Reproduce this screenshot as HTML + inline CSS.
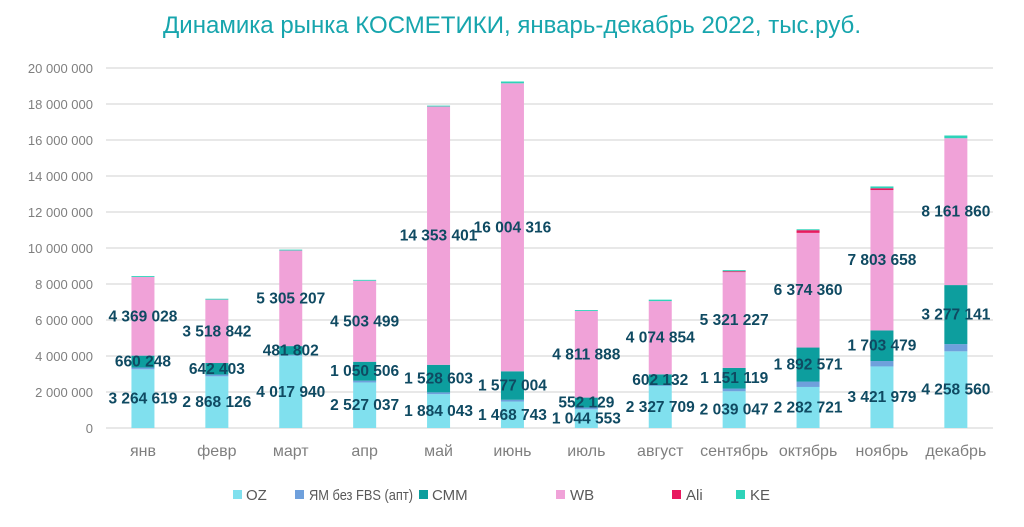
<!DOCTYPE html>
<html><head><meta charset="utf-8"><style>
body{margin:0;background:#fff;width:1024px;height:522px;overflow:hidden}
svg text{font-family:"Liberation Sans",Arial,sans-serif}
.yl{fill:#7f7f7f;font-size:13px;text-anchor:end}
.xl{fill:#7f7f7f;font-size:16px;text-anchor:middle}
.dl{fill:#0f4a62;font-size:15.5px;font-weight:bold;text-anchor:middle}
.lg{fill:#595959;font-size:15px}
</style></head><body>
<svg width="1024" height="522" xmlns="http://www.w3.org/2000/svg" id="s">
<text x="512" y="33" text-anchor="middle" textLength="698" lengthAdjust="spacingAndGlyphs" style="font-size:24px;fill:#17a5ad">Динамика рынка КОСМЕТИКИ, январь-декабрь 2022, тыс.руб.</text>
<g id="grid"></g><g id="bars"></g><g id="labs"></g>
<g>
<rect x="233" y="490" width="9" height="9" fill="#80e0ee"/><text class="lg" x="246" y="500">OZ</text>
<rect x="295" y="490" width="9" height="9" fill="#6fa0dc"/><text class="lg" x="309" y="500" textLength="104" lengthAdjust="spacingAndGlyphs">ЯМ без FBS (апт)</text>
<rect x="419" y="490" width="9" height="9" fill="#0d9e9e"/><text class="lg" x="432" y="500">СММ</text>
<rect x="556" y="490" width="9" height="9" fill="#f0a2d8"/><text class="lg" x="570" y="500">WB</text>
<rect x="672" y="490" width="9" height="9" fill="#e8195f"/><text class="lg" x="686" y="500">Ali</text>
<rect x="736" y="490" width="9" height="9" fill="#2ed3b9"/><text class="lg" x="750" y="500">KE</text>
</g>
</svg>
<script>
var NS="http://www.w3.org/2000/svg";
function el(p,t,a,tx){var e=document.createElementNS(NS,t);for(var k in a)e.setAttribute(k,a[k]);if(tx!=null)e.textContent=tx;document.getElementById(p).appendChild(e);}
var y0=428,k=18.0;
function Y(v){return y0-v*k;}
var yt=["0","2 000 000","4 000 000","6 000 000","8 000 000","10 000 000","12 000 000","14 000 000","16 000 000","18 000 000","20 000 000"];
for(var i=0;i<=10;i++){var y=Y(i*2);el("grid","line",{x1:106,x2:993,y1:y,y2:y,stroke:"#d9d9d9","stroke-width":1.3});el("grid","text",{"class":"yl",x:93,y:y+5},yt[i]);}
var cols=["#80e0ee","#6fa0dc","#0d9e9e","#f0a2d8","#e8195f","#2ed3b9"];
var cats=["янв","февр","март","апр","май","июнь","июль","август","сентябрь","октябрь","ноябрь","декабрь"];
var d=[[3.26,0.1,0.66,4.37,0,0.05],[2.87,0.1,0.64,3.52,0,0.05],[4.02,0.05,0.48,5.31,0,0.05],[2.53,0.1,1.05,4.50,0,0.05],[1.88,0.1,1.53,14.35,0,0.05],[1.47,0.1,1.58,16.0,0,0.1],[1.04,0.1,0.55,4.81,0,0.05],[2.33,0.05,0.60,4.07,0,0.08],[2.04,0.15,1.15,5.32,0.05,0.06],[2.28,0.3,1.89,6.37,0.15,0.05],[3.42,0.3,1.70,7.80,0.1,0.1],[4.26,0.4,3.28,8.16,0,0.15]];
var L=[["3 264 619","660 248","4 369 028"],["2 868 126","642 403","3 518 842"],["4 017 940","481 802","5 305 207"],["2 527 037","1 050 506","4 503 499"],["1 884 043","1 528 603","14 353 401"],["1 468 743","1 577 004","16 004 316"],["1 044 553","552 129","4 811 888"],["2 327 709","602 132","4 074 854"],["2 039 047","1 151 119","5 321 227"],["2 282 721","1 892 571","6 374 360"],["3 421 979","1 703 479","7 803 658"],["4 258 560","3 277 141","8 161 860"]];
for(var i=0;i<12;i++){var cx=106+36.95+i*73.9,acc=0,mids=[];
for(var j=0;j<6;j++){var v=d[i][j];if(v>0)el("bars","rect",{x:cx-11.5,width:23,y:Y(acc+v),height:v*k,fill:cols[j]});mids[j]=acc+v/2;acc+=v;}
el("labs","text",{"class":"dl",x:cx,y:Y(mids[0])+5},L[i][0]);
el("labs","text",{"class":"dl",x:cx,y:Y(mids[2])+5},L[i][1]);
el("labs","text",{"class":"dl",x:cx,y:Y(mids[3])+5},L[i][2]);
el("labs","text",{"class":"xl",x:cx,y:456},cats[i]);}
</script>
</body></html>
